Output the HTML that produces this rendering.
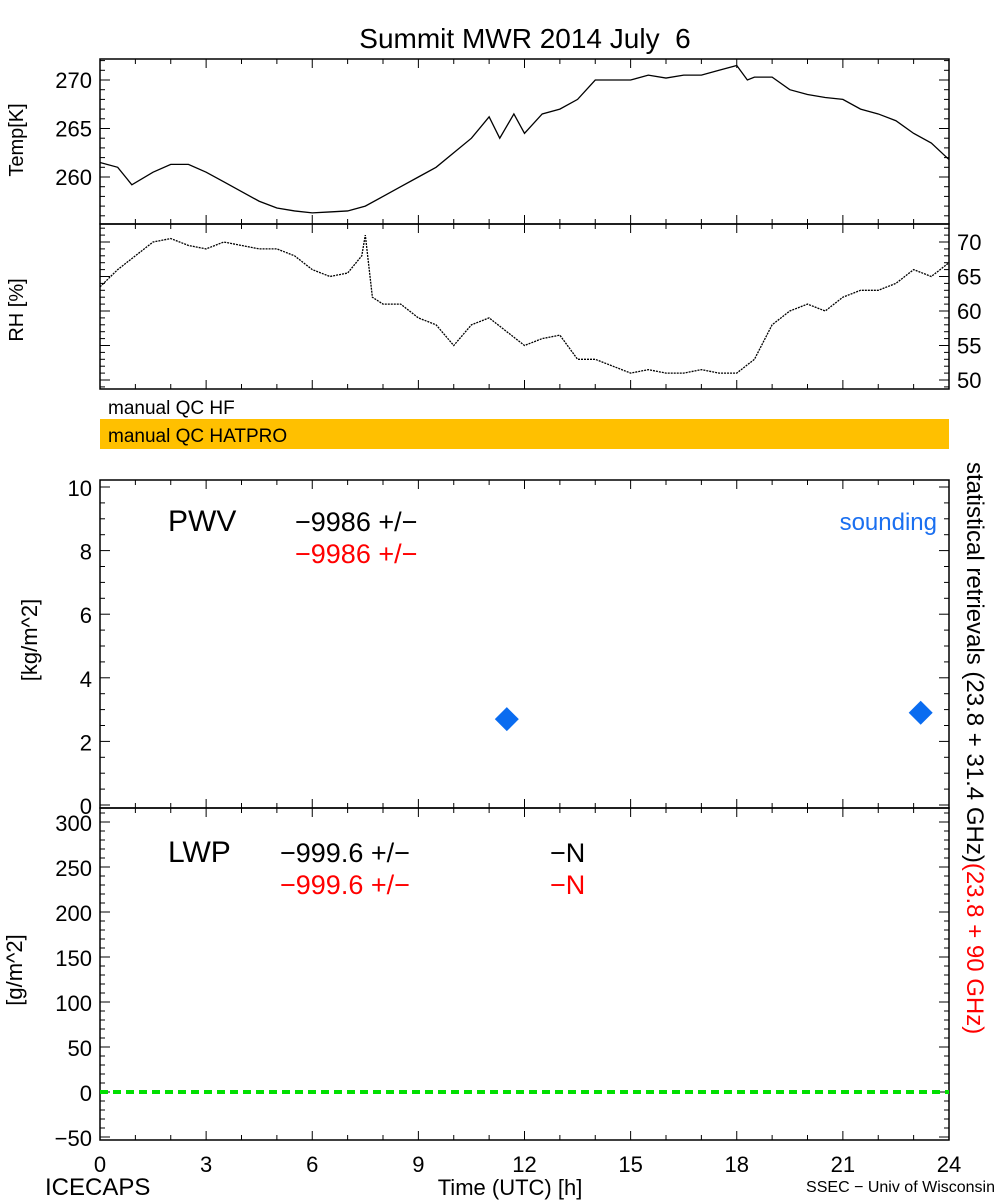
<!DOCTYPE html>
<html><head><meta charset="utf-8"><style>
body{margin:0;background:#fff;}
svg{display:block;font-family:"Liberation Sans",sans-serif;}
</style></head><body>
<svg id="c" width="1000" height="1200" viewBox="0 0 1000 1200"></svg>
<script>
const hours=[0,0.5,0.9,1.5,2,2.5,3,3.5,4,4.5,5,5.5,6,6.5,7,7.5,8,8.5,9,9.5,10,10.5,11,11.3,11.7,12,12.5,13,13.5,14,14.5,15,15.5,16,16.5,17,17.5,18,18.3,18.5,19,19.5,20,20.5,21,21.5,22,22.5,23,23.5,24];
const tempK=[261.5,261,259.2,260.5,261.3,261.3,260.5,259.5,258.5,257.5,256.8,256.5,256.3,256.4,256.5,257,258,259,260,261,262.5,264,266.2,264,266.5,264.5,266.5,267,268,270,270,270,270.5,270.2,270.5,270.5,271,271.5,270,270.3,270.3,269,268.5,268.2,268,267,266.5,265.8,264.5,263.5,261.8];
const rhHours=[0,0.5,1,1.5,2,2.5,3,3.5,4,4.5,5,5.5,6,6.5,7,7.4,7.5,7.7,8,8.5,9,9.5,10,10.5,11,11.5,12,12.5,13,13.5,14,14.5,15,15.5,16,16.5,17,17.5,18,18.5,19,19.5,20,20.5,21,21.5,22,22.5,23,23.5,24];
const rhPct=[63.5,66,68,70,70.5,69.5,69,70,69.5,69,69,68,66,65,65.5,68,71,62,61,61,59,58,55,58,59,57,55,56,56.5,53,53,52,51,51.5,51,51,51.5,51,51,53,58,60,61,60,62,63,63,64,66,65,67];
const sondeHours=[11.5,23.2];
const sondePwv=[2.7,2.9];
const lwpLine=[0];
const xTicks=[0,3,6,9,12,15,18,21,24];
const tempTicks=[260,265,270];
const rhTicks=[50,55,60,65,70];
const pwvTicks=[0,2,4,6,8,10];
const lwpTicks=[-50,0,50,100,150,200,250,300];

const S=document.getElementById('c'),NS='http://www.w3.org/2000/svg';
function el(t,a,txt){const e=document.createElementNS(NS,t);for(const k in a)e.setAttribute(k,a[k]);if(txt!==undefined)e.textContent=txt;S.appendChild(e);return e;}
const X0=100,X1=949;
const xs=h=>X0+h/24*(X1-X0);
const yT=v=>80+(270-v)*9.7;
const yR=v=>242+(70-v)*6.9;
const yP=v=>805-v*31.8;
const yL=v=>1092-v*0.9;

function box(y0,y1,name){
  let r=el('rect',{x:X0,y:y0,width:X1-X0,height:y1-y0,fill:'none',stroke:'#000','stroke-width':1.5});
  
  for(let h=0;h<=24;h++){const L=h%3==0?9:5;
    el('line',{x1:xs(h),x2:xs(h),y1:y0,y2:y0+L,stroke:'#000'});
    el('line',{x1:xs(h),x2:xs(h),y1:y1,y2:y1-L,stroke:'#000'});}
}
function yticks(vals,f,y0,y1,minor){
  for(let v=vals[0]-minor*10;v<=vals[vals.length-1]+minor*10;v+=minor){const y=f(v);if(y<y0||y>y1)continue;
    const major=vals.some(t=>Math.abs(t-v)<1e-6);const L=major?10:5;
    el('line',{x1:X0,x2:X0+L,y1:y,y2:y,stroke:'#000'});el('line',{x1:X1,x2:X1-L,y1:y,y2:y,stroke:'#000'});}
}
let t=el('text',{x:525,y:48,'font-size':28,'text-anchor':'middle'},'Summit MWR 2014 July \u00a06');

box(59,224,'temp-panel');yticks(tempTicks,yT,59,224,1);
tempTicks.forEach(v=>{const e=el('text',{x:92,y:yT(v)+8,'font-size':22,'text-anchor':'end'},v);});
t=el('text',{x:0,y:0,'font-size':20,'text-anchor':'middle',transform:'translate(23,140) rotate(-90)'},'Temp[K]');

let p=el('polyline',{points:hours.map((h,i)=>xs(h)+','+yT(tempK[i])).join(' '),fill:'none',stroke:'#000','stroke-width':1.3});

box(224,389,'rh-panel');yticks(rhTicks,yR,224,389,1);
rhTicks.forEach(v=>{const e=el('text',{x:957,y:yR(v)+8,'font-size':22},v);});
t=el('text',{x:0,y:0,'font-size':20,'text-anchor':'middle',transform:'translate(23,310) rotate(-90)'},'RH [%]');

p=el('polyline',{points:rhHours.map((h,i)=>xs(h)+','+yR(rhPct[i])).join(' '),fill:'none',stroke:'#000','stroke-width':1.3,'stroke-dasharray':'2 1'});

t=el('text',{x:108,y:414,'font-size':19},'manual QC HF');
let r=el('rect',{x:X0,y:419,width:X1-X0,height:30,fill:'#FFC000'});
t=el('text',{x:108,y:442,'font-size':19},'manual QC HATPRO');
box(480,808,'pwv-panel');yticks(pwvTicks,yP,480,808,0.5);
pwvTicks.forEach(v=>{const e=el('text',{x:92,y:yP(v)+9,'font-size':22,'text-anchor':'end'},v);});
t=el('text',{x:0,y:0,'font-size':22,'text-anchor':'middle',transform:'translate(37,640) rotate(-90)'},'[kg/m^2]');

t=el('text',{x:168,y:531,'font-size':30},'PWV');
t=el('text',{x:295,y:531,'font-size':27},'\u22129986 +/\u2212');
t=el('text',{x:295,y:563,'font-size':27,fill:'#ff0000'},'\u22129986 +/\u2212');
t=el('text',{x:937,y:530,'font-size':24,fill:'#1a6ff0','text-anchor':'end'},'sounding');
sondeHours.forEach((h,i)=>{const cx=xs(h),cy=yP(sondePwv[i]);
  const d=el('polygon',{points:`${cx},${cy-12} ${cx+12},${cy} ${cx},${cy+12} ${cx-12},${cy}`,fill:'#0a6cf0'});
  });
box(808,1140,'lwp-panel');yticks(lwpTicks,yL,808,1140,10);
lwpTicks.forEach(v=>{const e=el('text',{x:92,y:yL(v)+9,'font-size':22,'text-anchor':'end'},v<0?'\u2212'+(-v):v);});
t=el('text',{x:0,y:0,'font-size':22,'text-anchor':'middle',transform:'translate(22,970) rotate(-90)'},'[g/m^2]');

t=el('text',{x:168,y:862,'font-size':30},'LWP');
t=el('text',{x:280,y:862,'font-size':27},'\u2212999.6 +/\u2212');
t=el('text',{x:550,y:862,'font-size':27},'\u2212N');
t=el('text',{x:280,y:894,'font-size':27,fill:'#ff0000'},'\u2212999.6 +/\u2212');
t=el('text',{x:550,y:894,'font-size':27,fill:'#ff0000'},'\u2212N');
lwpLine.forEach(v=>{const l=el('line',{x1:X0,x2:X1,y1:yL(v),y2:yL(v),stroke:'#00e000','stroke-width':4,'stroke-dasharray':'8 5'});
  });
t=el('text',{x:0,y:0,'font-size':24,transform:'translate(967,462) rotate(90)'});

const s1=document.createElementNS(NS,'tspan');s1.textContent='statistical retrievals (23.8 + 31.4 GHz)';t.appendChild(s1);
const s2=document.createElementNS(NS,'tspan');s2.setAttribute('fill','#ff0000');s2.textContent='(23.8 + 90 GHz)';t.appendChild(s2);
xTicks.forEach(h=>{const e=el('text',{x:xs(h),y:1172,'font-size':22,'text-anchor':'middle'},h);});
t=el('text',{x:45,y:1195,'font-size':24},'ICECAPS');
t=el('text',{x:510,y:1195,'font-size':22,'text-anchor':'middle'},'Time (UTC) [h]');
t=el('text',{x:995,y:1192,'font-size':16,'text-anchor':'end'},'SSEC \u2212 Univ of Wisconsin');
</script>
</body></html>
